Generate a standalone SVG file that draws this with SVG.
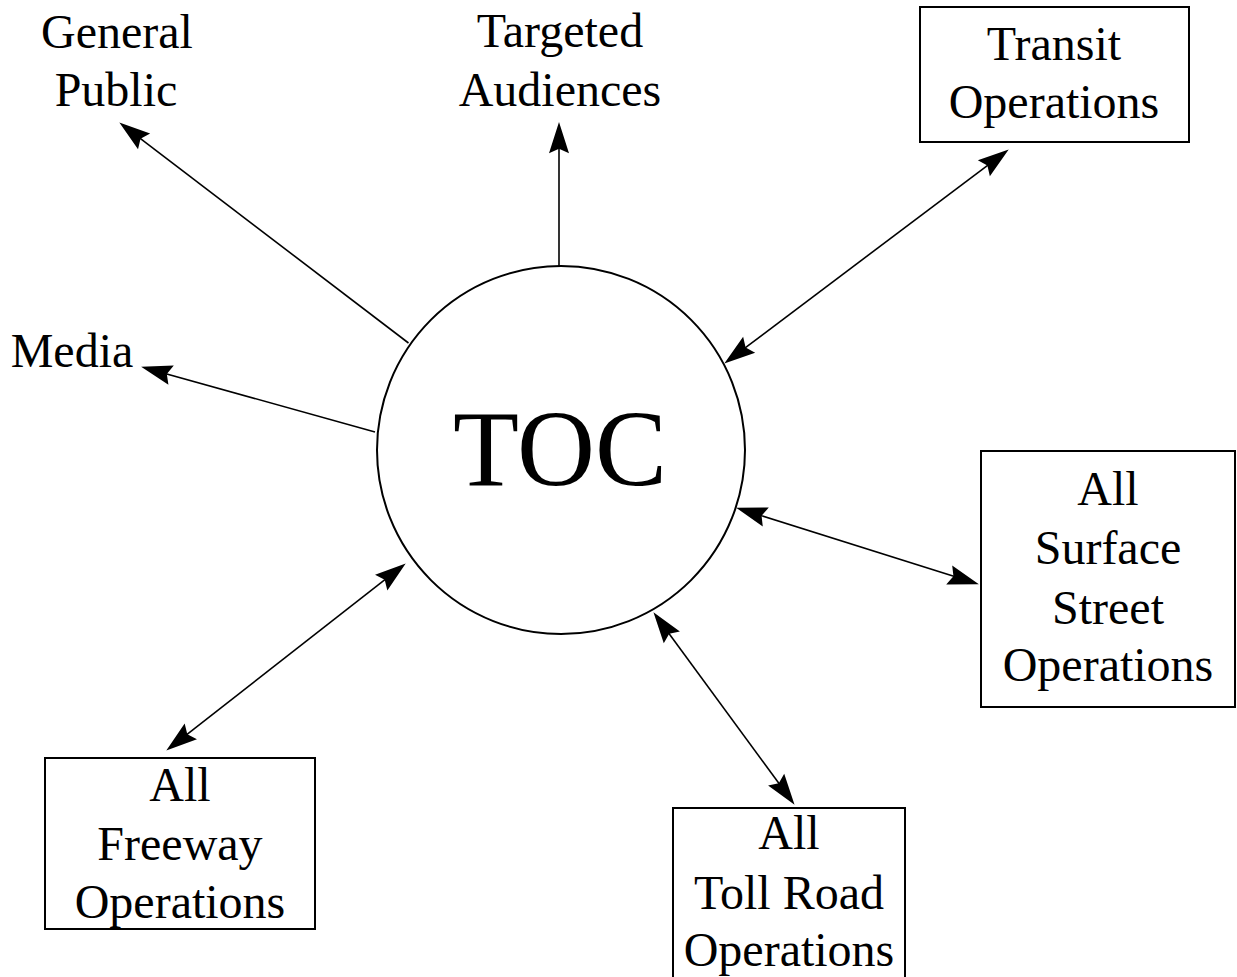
<svg xmlns="http://www.w3.org/2000/svg" width="1237" height="977" viewBox="0 0 1237 977">
  <style>
    .lbl { font-family: "Liberation Serif", "Times New Roman", serif; font-size: 48px; fill: #000; text-anchor: middle; }
    .hub { font-family: "Liberation Serif", "Times New Roman", serif; font-size: 108px; fill: #000; text-anchor: middle; }
    .box { fill: #fff; stroke: #000; stroke-width: 2; }
    .link { fill: none; stroke: #000; stroke-width: 1.6; }
  </style>
  <defs>
    <marker id="arrow" markerUnits="userSpaceOnUse" markerWidth="40" markerHeight="30" refX="0" refY="0" viewBox="-24 -12 36 24" orient="auto-start-reverse" overflow="visible">
      <path d="M8,0 L-20,-9 L-16,0 L-20,9 z" fill="#000"/>
    </marker>
  </defs>
  <rect width="1237" height="977" fill="#fff"/>

  <!-- connectors -->
  <g id="connectors">
    <line class="link" x1="408.5" y1="343" x2="126.4" y2="127.9" marker-end="url(#arrow)"/>
    <line class="link" x1="559" y1="266" x2="559" y2="131" marker-end="url(#arrow)"/>
    <line class="link" x1="375" y1="432" x2="149.7" y2="369.2" marker-end="url(#arrow)"/>
    <line class="link" x1="731.4" y1="358.2" x2="1001.6" y2="154.8" marker-start="url(#arrow)" marker-end="url(#arrow)"/>
    <line class="link" x1="744.6" y1="510.4" x2="970.4" y2="581.6" marker-start="url(#arrow)" marker-end="url(#arrow)"/>
    <line class="link" x1="658.7" y1="619.5" x2="789.3" y2="797.5" marker-start="url(#arrow)" marker-end="url(#arrow)"/>
    <line class="link" x1="398.7" y1="568.9" x2="173.3" y2="745.1" marker-start="url(#arrow)" marker-end="url(#arrow)"/>
  </g>

  <!-- central operations centre -->
  <g id="toc">
    <circle cx="561" cy="450" r="184" fill="none" stroke="#000" stroke-width="2"/>
    <text class="hub" x="560" y="485">TOC</text>
  </g>

  <g id="general-public">
    <text class="lbl" x="117" y="48">General</text>
    <text class="lbl" x="116" y="106">Public</text>
  </g>

  <g id="targeted-audiences">
    <text class="lbl" x="560" y="47">Targeted</text>
    <text class="lbl" x="560" y="106">Audiences</text>
  </g>

  <g id="media">
    <text class="lbl" x="72" y="367">Media</text>
  </g>

  <g id="transit-operations">
    <rect class="box" x="920" y="7" width="269" height="135"/>
    <text class="lbl" x="1054" y="60">Transit</text>
    <text class="lbl" x="1054" y="118">Operations</text>
  </g>

  <g id="surface-street-operations">
    <rect class="box" x="981" y="451" width="254" height="256"/>
    <text class="lbl" x="1108" y="505">All</text>
    <text class="lbl" x="1108" y="564">Surface</text>
    <text class="lbl" x="1108" y="624">Street</text>
    <text class="lbl" x="1108" y="681">Operations</text>
  </g>

  <g id="toll-road-operations">
    <rect class="box" x="673" y="808" width="232" height="200"/>
    <text class="lbl" x="789" y="849">All</text>
    <text class="lbl" x="789" y="909">Toll Road</text>
    <text class="lbl" x="789" y="966">Operations</text>
  </g>

  <g id="freeway-operations">
    <rect class="box" x="45" y="758" width="270" height="171"/>
    <text class="lbl" x="180" y="801">All</text>
    <text class="lbl" x="180" y="860">Freeway</text>
    <text class="lbl" x="180" y="918">Operations</text>
  </g>
</svg>
